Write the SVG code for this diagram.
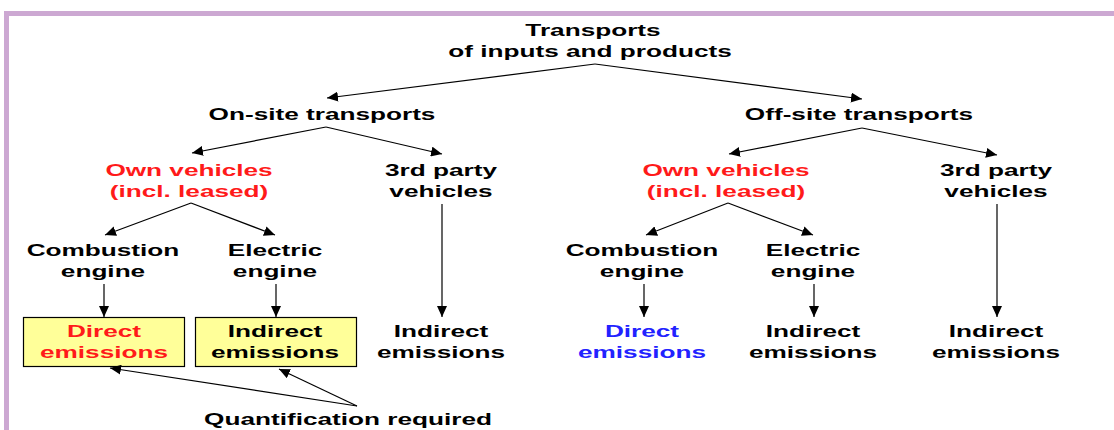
<svg xmlns="http://www.w3.org/2000/svg" width="1114" height="430" viewBox="0 0 1114 430">
<defs>
<style>
text{font-family:"Liberation Sans",Arial,sans-serif;font-weight:bold;font-size:17px;text-anchor:middle;fill:#000}
.red{fill:#FF1A1A}
.blue{fill:#2222FF}
.conn line{stroke:#000;stroke-width:1.2;marker-end:url(#ah)}
.box{fill:#FFFF99;stroke:#000;stroke-width:1.2}
.border{fill:#CCA8D2}
</style>
<marker id="ah" markerUnits="userSpaceOnUse" markerWidth="12" markerHeight="10" refX="11" refY="5" orient="auto">
<path d="M0,0 L11,5 L0,10 Z" fill="#000"/>
</marker>
</defs>
<rect width="1114" height="430" fill="#fff"/>
<rect class="border" x="4" y="11" width="1110" height="5"/>
<rect class="border" x="4" y="11" width="5" height="419"/>

<g id="root"><text transform="matrix(1.54 0 0 1 593 0)"><tspan x="0" y="36">Transports</tspan></text><text transform="matrix(1.54 0 0 1 590 0)"><tspan x="0" y="57">of inputs and products</tspan></text></g>
<g id="onsite"><text transform="matrix(1.54 0 0 1 322 0)" x="0" y="120">On-site transports</text></g>
<g id="offsite"><text transform="matrix(1.54 0 0 1 859 0)" x="0" y="120">Off-site transports</text></g>

<g id="own-left"><text class="red" transform="matrix(1.54 0 0 1 189 0)"><tspan x="0" y="176">Own vehicles</tspan><tspan x="0" y="197">(incl. leased)</tspan></text></g>
<g id="third-left"><text transform="matrix(1.54 0 0 1 441 0)"><tspan x="0" y="176">3rd party</tspan><tspan x="0" y="197">vehicles</tspan></text></g>
<g id="own-right"><text class="red" transform="matrix(1.54 0 0 1 726 0)"><tspan x="0" y="176">Own vehicles</tspan><tspan x="0" y="197">(incl. leased)</tspan></text></g>
<g id="third-right"><text transform="matrix(1.54 0 0 1 996 0)"><tspan x="0" y="176">3rd party</tspan><tspan x="0" y="197">vehicles</tspan></text></g>

<g id="comb-left"><text transform="matrix(1.54 0 0 1 103 0)"><tspan x="0" y="256">Combustion</tspan><tspan x="0" y="277">engine</tspan></text></g>
<g id="elec-left"><text transform="matrix(1.54 0 0 1 275 0)"><tspan x="0" y="256">Electric</tspan><tspan x="0" y="277">engine</tspan></text></g>
<g id="comb-right"><text transform="matrix(1.54 0 0 1 642 0)"><tspan x="0" y="256">Combustion</tspan><tspan x="0" y="277">engine</tspan></text></g>
<g id="elec-right"><text transform="matrix(1.54 0 0 1 813 0)"><tspan x="0" y="256">Electric</tspan><tspan x="0" y="277">engine</tspan></text></g>

<g id="direct-left"><rect class="box" x="23.5" y="317.5" width="161" height="49"/><text class="red" transform="matrix(1.54 0 0 1 104 0)"><tspan x="0" y="337">Direct</tspan><tspan x="0" y="358">emissions</tspan></text></g>
<g id="indirect-left"><rect class="box" x="195.5" y="317.5" width="161" height="49"/><text transform="matrix(1.54 0 0 1 275 0)"><tspan x="0" y="337">Indirect</tspan><tspan x="0" y="358">emissions</tspan></text></g>
<g id="indirect-3rd-left"><text transform="matrix(1.54 0 0 1 441 0)"><tspan x="0" y="337">Indirect</tspan><tspan x="0" y="358">emissions</tspan></text></g>
<g id="direct-right"><text class="blue" transform="matrix(1.54 0 0 1 642 0)"><tspan x="0" y="337">Direct</tspan><tspan x="0" y="358">emissions</tspan></text></g>
<g id="indirect-right"><text transform="matrix(1.54 0 0 1 813 0)"><tspan x="0" y="337">Indirect</tspan><tspan x="0" y="358">emissions</tspan></text></g>
<g id="indirect-3rd-right"><text transform="matrix(1.54 0 0 1 996 0)"><tspan x="0" y="337">Indirect</tspan><tspan x="0" y="358">emissions</tspan></text></g>

<g id="quant"><text transform="matrix(1.54 0 0 1 348 0)" x="0" y="425">Quantification required</text></g>

<g id="connectors" class="conn">
<line x1="595" y1="64" x2="327" y2="98"/>
<line x1="595" y1="64" x2="862" y2="99"/>
<line x1="326" y1="127" x2="192" y2="153"/>
<line x1="326" y1="127" x2="442" y2="154"/>
<line x1="862" y1="128" x2="729" y2="154"/>
<line x1="862" y1="128" x2="997" y2="155"/>
<line x1="191" y1="203" x2="105" y2="235"/>
<line x1="191" y1="203" x2="275" y2="235"/>
<line x1="728" y1="203" x2="646" y2="235"/>
<line x1="728" y1="203" x2="813" y2="235"/>
<line x1="104" y1="284" x2="104" y2="317"/>
<line x1="276" y1="284" x2="276" y2="317"/>
<line x1="442" y1="204" x2="442" y2="317"/>
<line x1="644" y1="284" x2="644" y2="317"/>
<line x1="814" y1="284" x2="814" y2="317"/>
<line x1="997" y1="204" x2="997" y2="317"/>
<line x1="357" y1="406" x2="110" y2="368"/>
<line x1="357" y1="406" x2="279" y2="369"/>
</g>
</svg>
